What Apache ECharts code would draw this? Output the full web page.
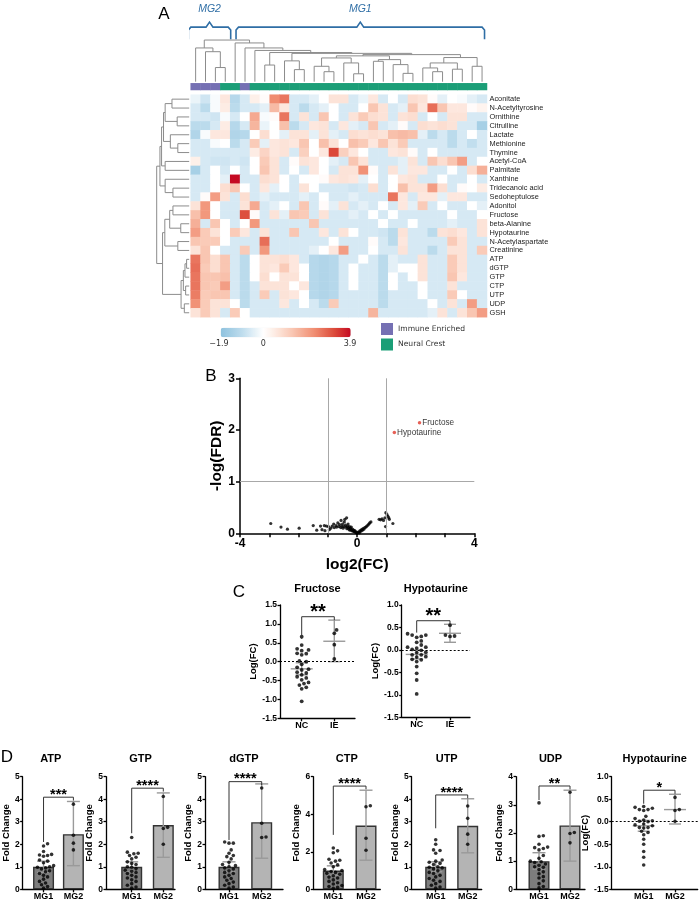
<!DOCTYPE html>
<html><head><meta charset="utf-8">
<script src="https://cdn.jsdelivr.net/npm/echarts@6/dist/echarts.min.js"></script>
<style>html,body{margin:0;padding:0;background:#fff}#c{width:700px;height:902px}</style>
</head><body><div id="c"></div>
<script>
// ---------------- DATA ----------------
const sampleNames = Array.from({length:30},(_,i)=>'S'+(i+1));
const groupNames = ['Immune Enriched','Neural Crest'];
const sampleGroup = [0,0,0,1,1,0,1,1,1,1,1,1,1,1,1,1,1,1,1,1,1,1,1,1,1,1,1,1,1,1];
const metabolites = ['Aconitate','N-Acetyltyrosine','Ornithine','Citrulline','Lactate','Methionine','Thymine','Acetyl-CoA','Palmitate','Xanthine','Tridecanoic acid','Sedoheptulose','Adonitol','Fructose','beta-Alanine','Hypotaurine','N-Acetylaspartate','Creatinine','ATP','dGTP','GTP','CTP','UTP','UDP','GSH'];
const heatValues = [
[-0.3,-0.7,-0.1,0.6,-1.1,-0.6,0.4,0.1,2.3,2.6,-0.6,-0.6,-0.4,0.0,0.7,0.7,-0.6,-0.3,0.6,-0.6,0.0,-0.6,0.8,0.7,0.1,-0.4,0.0,-0.1,-0.4,-0.6],
[-0.6,-1.0,-0.1,0.5,-1.0,-0.6,-0.6,-0.4,1.5,0.6,-0.6,-1.0,-0.6,-0.4,0.0,-0.6,-0.6,0.0,1.3,0.7,-0.6,-0.4,1.3,0.6,2.7,1.3,0.6,0.6,0.1,0.3],
[-0.6,-0.6,-0.7,-0.1,-0.6,0.0,1.8,-0.1,0.1,2.6,-0.6,0.7,-0.6,1.3,0.0,-0.6,0.7,1.2,0.8,0.7,-0.6,0.7,0.8,-0.6,0.0,-0.6,0.7,0.7,-0.6,-0.6],
[-1.0,-1.0,-0.6,0.5,-1.1,-0.6,1.6,-0.3,0.0,1.4,-1.0,-0.6,0.6,0.7,-0.6,0.6,-0.4,-0.6,1.3,-0.6,-0.4,0.1,-0.6,0.8,0.7,0.8,0.7,-0.6,-0.6,-1.4],
[-1.2,-0.1,0.6,0.6,-1.2,-1.1,0.0,0.8,0.0,-0.4,0.7,0.7,-0.4,0.7,-0.4,-0.6,0.8,0.7,0.8,0.7,1.4,1.5,1.4,-0.4,-1.0,-0.6,-1.0,-0.6,0.0,-0.6],
[-0.6,-0.6,-0.1,0.0,-1.0,-0.6,1.2,-0.4,0.6,0.7,0.6,1.3,0.0,1.4,0.7,0.0,1.4,1.2,0.6,1.3,0.7,1.2,-0.6,-0.6,-0.6,-0.6,-1.0,-0.6,-0.9,-0.6],
[-0.6,-0.6,-0.6,-0.6,-0.6,-0.6,0.5,1.0,0.6,0.7,-0.6,1.1,0.0,0.6,3.2,1.1,0.6,0.0,-0.6,-0.6,0.6,0.7,0.1,-0.6,0.0,-0.6,-0.6,-0.6,-0.6,-0.6],
[0.4,-0.6,-0.7,-0.7,-0.6,-0.7,0.0,1.2,0.7,-0.6,0.1,0.7,0.6,0.0,-0.4,-0.6,1.3,0.7,-0.6,-0.6,-0.6,-0.4,0.7,-0.6,1.3,0.8,1.3,2.0,-0.6,0.0],
[-1.4,-0.6,0.0,-0.6,0.0,-0.6,0.0,1.3,0.7,-0.6,0.0,-0.6,0.6,0.0,-0.6,0.7,0.7,2.2,0.1,-0.6,0.7,-0.4,0.6,0.6,-0.6,-0.6,0.0,-0.6,0.8,1.7],
[-0.6,-0.6,0.0,-0.4,3.9,-0.6,-0.6,0.8,0.7,0.0,-0.6,0.0,0.0,0.1,0.6,0.7,0.6,-0.4,0.0,-0.6,0.0,0.6,0.7,-0.6,-0.6,0.0,-0.6,-0.6,0.0,-0.6],
[-0.6,-0.6,0.0,0.8,1.3,0.0,-0.6,0.6,-0.4,0.0,-0.6,0.7,0.0,-0.6,-0.6,-0.6,-0.7,-0.6,0.8,-0.6,0.0,1.4,0.7,0.7,2.0,0.8,-0.6,0.1,0.0,0.5],
[-0.6,0.1,2.0,0.7,-0.6,0.8,-0.6,-0.4,-0.6,-0.6,-0.6,-0.4,-0.6,0.0,-0.6,-0.6,-0.4,-0.6,-0.6,-0.6,2.6,0.6,-0.6,0.6,0.6,-0.4,0.6,0.6,-0.6,-0.6],
[0.7,2.1,0.0,-0.6,-0.6,0.7,1.8,-0.6,-0.4,0.0,-0.6,1.3,-0.6,0.1,-0.4,0.7,-0.6,-0.4,-0.6,0.0,-0.6,0.6,-0.4,1.2,-0.6,0.0,-0.6,-0.6,0.0,-0.4],
[1.4,2.1,0.0,-0.6,-0.6,3.1,0.1,-0.6,0.7,-0.4,1.3,1.2,-0.6,0.7,-0.6,-0.6,-0.4,-0.6,0.0,-0.6,0.0,-0.6,-0.6,-0.6,-0.6,-0.6,0.0,-0.6,-0.6,0.0],
[1.7,-0.6,1.3,0.0,-0.6,0.0,2.1,-0.6,-0.6,-0.6,-0.6,-0.6,1.3,-0.6,-0.6,-0.6,-0.6,-0.6,-0.6,0.0,-0.6,-0.6,0.0,-0.6,-0.6,-0.6,-0.4,-0.6,-0.6,0.7],
[2.0,1.2,0.7,0.0,1.2,0.6,-0.6,0.7,-0.6,-0.6,1.3,-0.6,-0.6,0.6,-0.6,0.7,0.0,-0.6,-0.6,-0.7,-1.0,0.7,-0.6,-0.6,-1.0,0.7,0.8,0.6,-0.6,0.7],
[1.3,1.2,1.2,0.0,-0.6,-0.6,-0.6,2.7,-0.6,-0.6,-0.6,-0.6,-0.6,-0.6,0.0,-0.6,-0.6,-0.6,0.1,-0.6,-1.0,0.6,-0.6,-0.6,-0.6,-0.6,1.2,0.7,-0.6,-0.6],
[0.7,1.3,0.0,-0.6,-0.6,1.2,-0.6,2.1,-0.6,-0.6,-0.6,-0.6,-0.4,0.0,0.6,2.0,-0.6,-0.6,0.0,-0.6,-0.6,0.7,-0.6,-0.6,-1.0,-0.6,0.7,0.7,-0.6,1.2],
[2.6,1.3,0.8,1.3,-0.6,-1.0,0.0,0.7,0.7,0.8,0.6,-0.6,-1.1,-1.2,-1.1,-0.6,-0.6,0.0,-0.6,-1.0,-0.4,-0.6,-0.6,0.7,-0.6,-0.6,1.2,0.7,-0.6,-0.6],
[2.7,1.2,0.8,1.3,-0.6,-1.0,0.0,0.7,0.6,1.2,0.6,0.0,-1.1,-1.2,-1.1,-0.6,0.0,-0.6,-0.6,-1.0,-0.4,0.0,0.0,0.7,-0.6,-0.6,1.2,0.7,-0.6,-0.6],
[2.6,1.3,1.3,1.4,-0.6,-1.0,0.0,0.8,0.0,0.7,0.7,0.0,-1.1,-1.2,-1.1,-0.6,0.0,-0.6,-0.6,-1.0,0.0,-0.6,0.0,0.7,-0.6,-0.6,1.3,0.6,-0.6,-0.6],
[2.6,1.3,1.2,2.0,-0.6,-1.0,-0.6,0.7,0.7,0.7,0.0,0.6,-1.1,-1.2,-1.1,-0.6,0.0,-0.6,-0.6,-1.0,0.0,-0.6,-0.6,0.0,-0.6,-0.6,0.7,-0.6,-0.6,-0.6],
[2.5,1.2,1.3,1.3,-0.6,-1.0,-0.6,1.2,-0.6,0.7,0.6,0.0,-1.1,-1.2,-1.1,-0.6,-0.6,-0.6,-0.6,-1.0,-0.6,-0.6,-0.6,0.0,-0.6,-0.6,1.2,0.0,-0.6,-0.6],
[2.2,1.2,0.7,0.7,0.0,-1.0,-0.6,-0.6,-0.6,0.6,-0.6,0.0,-0.6,-1.0,1.2,-0.6,-0.6,-0.6,-0.6,-1.0,-0.6,-0.6,-0.6,-0.6,0.0,-0.6,0.7,-0.6,2.0,-0.6],
[0.7,1.2,0.7,-0.6,1.2,0.0,-0.6,-0.6,-0.6,-0.6,-0.6,-0.6,-0.6,-0.6,-0.6,-0.6,-0.6,-0.6,1.6,-0.6,-0.6,-0.6,-0.6,-0.6,-0.4,0.7,-0.6,0.7,1.3,2.0]
];
const heatMin = -1.9, heatMax = 3.9;
// dendrograms: [left, right, height]; leaves are indices
const mg2Tree = [0,[1,[2,3,0.34],0.72],0.81];
const mg1Lower = [[[[12,[13,14,0.24],0.37],[15,[16,17,0.19],0.45],0.57],[[18,19,0.49],[20,[21,22,0.2],0.41],0.53],0.62],[[[23,[24,25,0.24],0.33],[26,27,0.3],0.45],[28,29,0.37],0.58],0.65];
const mg1Tree = [4,[5,[6,[[7,8,0.40],[[9,[10,11,0.29],0.5],mg1Lower,0.68],0.70],0.75],0.81],0.93];
const colTree = [mg2Tree, mg1Tree, 1.0];
const rowTop = [[[[[0,1,0.53],[2,3,0.37],0.74],[4,[5,6,0.35],0.58],0.79],[7,8,0.74],0.85],[9,[10,11,0.5],0.74],0.9];
const rowBottom = [[[[12,13,0.5],[14,15,0.26],0.6],[16,17,0.35],0.75],[[[[18,19,0.08],20,0.13],[21,22,0.11],0.18],[23,24,0.15],0.25],0.82];
const rowTree = [rowTop, rowBottom, 1.0];
const clusterLabels = ['MG2','MG1'];
const clusterSpans = [[-0.74,3.55],[4.09,29.25]];

// volcano
const volcanoPoints = [[-2.95,0.19],[-2.6,0.12],[-2.38,0.08],[-1.98,0.1],[-1.5,0.15],[-1.38,0.06],[-1.25,0.14],[-1.2,0.07],[-1.12,0.15],[-1.1,0.05],[-1.05,0.14],[-0.98,0.13],[-0.95,0.07],[-0.9,0.1],[-0.85,0.14],[-0.8,0.18],[-0.78,0.11],[-0.72,0.15],[-0.7,0.12],[-0.66,0.2],[-0.62,0.13],[-0.6,0.17],[-0.56,0.11],[-0.55,0.25],[-0.52,0.14],[-0.5,0.18],[-0.48,0.1],[-0.45,0.13],[-0.44,0.22],[-0.42,0.27],[-0.4,0.16],[-0.38,0.12],[-0.36,0.3],[-0.35,0.09],[-0.33,0.14],[-0.31,0.18],[-0.3,0.11],[-0.28,0.08],[-0.26,0.13],[-0.25,0.06],[-0.23,0.1],[-0.21,0.07],[-0.2,0.12],[-0.18,0.05],[-0.16,0.08],[-0.14,0.04],[-0.12,0.06],[-0.1,0.03],[-0.08,0.05],[-0.06,0.02],[-0.04,0.03],[-0.02,0.01],[0,0.0],[0.03,0.02],[0.06,0.03],[0.08,0.01],[0.1,0.05],[0.13,0.04],[0.15,0.07],[0.18,0.06],[0.2,0.09],[0.23,0.08],[0.26,0.11],[0.3,0.12],[0.33,0.14],[0.37,0.16],[0.4,0.18],[0.43,0.2],[0.47,0.22],[0.75,0.27],[0.8,0.26],[0.85,0.28],[0.9,0.25],[0.95,0.3],[0.98,0.4],[1.02,0.36],[1.05,0.33],[1.08,0.3],[1.1,0.27],[0.97,0.13],[1.22,0.19]];
const volcanoHitNames = ['Fructose','Hypotaurine'];
const volcanoHits = [[2.13,2.14],[1.27,1.95]];
const volcanoLines = {x:[-1,1], y:[1]};

// panel C
const fructoseNC = [0.66,0.44,0.34,0.31,0.29,0.22,0.21,0.18,0.02,0.0,-0.07,-0.15,-0.2,-0.22,-0.28,-0.3,-0.35,-0.4,-0.43,-0.48,-0.55,-0.58,-0.62,-0.68,-0.72,-1.05];
const fructoseIE = [0.84,0.75,0.45,0.07];
const fructoseStats = [[-0.19,-0.35,-0.03],[0.54,0.0,1.1]];
const hypoNC = [0.36,0.33,0.33,0.3,0.28,0.2,0.17,0.11,0.06,0.06,0.04,0.01,-0.01,-0.05,-0.06,-0.11,-0.11,-0.15,-0.16,-0.21,-0.22,-0.26,-0.37,-0.52,-0.67,-0.98];
const hypoIE = [0.55,0.33,0.31,0.3];
const hypoStats = [[-0.1,-0.2,0.0],[0.37,0.17,0.57]];

// panel D
const atpMG1 = [2.02,1.92,1.68,1.55,1.52,1.47,1.5,1.3,1.25,1.18,1.05,1.0,0.98,0.95,0.9,0.82,0.78,0.7,0.62,0.55,0.45,0.35,0.28,0.2,0.12,0.05];
const atpMG2 = [3.78,2.4,2.05,1.75];
const gtpMG1 = [2.3,1.65,1.6,1.58,1.5,1.42,1.35,1.22,1.15,1.1,1.0,0.98,0.92,0.85,0.8,0.75,0.7,0.62,0.55,0.5,0.42,0.35,0.25,0.18,0.1,0.05];
const gtpMG2 = [4.12,2.75,2.7,2.0];
const dgtpMG1 = [2.1,2.05,2.05,1.75,1.6,1.5,1.45,1.35,1.2,1.1,1.05,1.0,0.95,0.9,0.82,0.75,0.7,0.62,0.55,0.48,0.4,0.32,0.25,0.18,0.1,0.05];
const dgtpMG2 = [4.5,2.93,2.32,2.3];
const ctpMG1 = [2.2,2.05,1.95,1.6,1.55,1.5,1.4,1.3,1.2,1.05,1.0,0.95,0.9,0.85,0.8,0.72,0.65,0.6,0.5,0.42,0.35,0.28,0.2,0.15,0.1,0.05];
const ctpMG2 = [4.45,4.4,2.72,2.08];
const utpMG1 = [2.2,2.0,1.75,1.72,1.6,1.3,1.25,1.2,1.15,1.1,1.0,0.98,0.95,0.9,0.82,0.75,0.7,0.62,0.55,0.48,0.4,0.35,0.25,0.18,0.1,0.05];
const utpMG2 = [3.7,3.15,2.45,2.0];
const udpMG1 = [3.07,1.9,1.88,1.6,1.5,1.48,1.45,1.4,1.2,1.1,1.0,0.98,0.95,0.9,0.85,0.8,0.78,0.7,0.62,0.55,0.45,0.4,0.3,0.2,0.1,0.05];
const udpMG2 = [3.45,2.02,1.98,1.65];
const hypoMG1 = [0.34,0.32,0.3,0.27,0.27,0.25,0.12,0.07,0.04,0.02,0.01,0.0,-0.05,-0.07,-0.09,-0.13,-0.13,-0.14,-0.21,-0.24,-0.29,-0.39,-0.5,-0.66,-0.79,-0.96];
const hypoMG2 = [0.54,0.27,0.25,0.01];
// [mean, low, high] per group
const atpStats = [[1.0,0.75,1.25],[2.45,1.05,3.9]];
const gtpStats = [[1.0,0.78,1.22],[2.85,1.42,4.28]];
const dgtpStats = [[1.0,0.78,1.22],[2.98,1.38,4.68]];
const ctpStats = [[1.0,0.75,1.25],[3.4,1.55,5.28]];
const utpStats = [[1.0,0.78,1.22],[2.82,1.62,4.02]];
const udpStats = [[1.0,0.72,1.3],[2.27,1.0,3.52]];
const hypoDStats = [[-0.09,-0.21,0.03],[0.27,-0.05,0.61]];
// significance: [top, leftEnd, rightEnd, stars]
const sigC = [[1.19,0.6,1.1,'**'],[0.65,0.385,0.57,'**']];
const sigD = [[4.09,2.1,3.94,'***'],[4.49,2.49,4.34,'****'],[4.78,2.19,4.63,'****'],[5.5,2.9,5.33,'****'],[4.19,2.71,4.04,'****'],[3.67,3.17,3.55,'**'],[0.7,0.4,0.62,'*']];

// ---------------- BUILD ----------------
const FONT = '"Liberation Sans", Arial, sans-serif';
const grids=[], xAxes=[], yAxes=[], series=[], graphics=[];
function addGrid(g,x,y){grids.push(g);const i=grids.length-1;xAxes.push(Object.assign({gridIndex:i},x));yAxes.push(Object.assign({gridIndex:i},y));return i;}
function txt(s,x,y,font,fill,align){graphics.push({type:'text',x:x,y:y,silent:true,style:{text:s,font:font,fill:fill||'#000',align:align||'center',verticalAlign:'middle'}});}

function treeSegs(node,segs,swap){
  if(typeof node==='number') return {p:node,h:0};
  const a=treeSegs(node[0],segs,swap), b=treeSegs(node[1],segs,swap), h=node[2];
  let pts=[[a.p,a.h],[a.p,h],[b.p,h],[b.p,b.h]];
  if(swap) pts=pts.map(q=>[q[1],q[0]]);
  segs.push(pts);
  return {p:(a.p+b.p)/2,h:h};
}

const HM = {left:190.7, top:94.7, width:296.3, height:222.5};
const gCol = addGrid({left:HM.left,top:19.2,width:HM.width,height:62.5},{type:'value',min:-0.5,max:29.5,show:false},{type:'value',min:0,max:1.5,show:false});
const colSegs=[]; treeSegs(colTree,colSegs,false);
series.push({type:'lines',coordinateSystem:'cartesian2d',xAxisIndex:gCol,yAxisIndex:gCol,polyline:true,silent:true,
  lineStyle:{color:'#8c8c8c',width:1,opacity:1},data:colSegs.map(c=>({coords:c}))});
const braceData = clusterSpans.map(s=>{const a=s[0],b=s[1],m=(a+b)/2;return {coords:[[a,1.02],[a,1.24],[a+0.25,1.31],[m-0.35,1.31],[m,1.43],[m+0.35,1.31],[b-0.25,1.31],[b,1.24],[b,1.02]]};});
series.push({type:'lines',coordinateSystem:'cartesian2d',xAxisIndex:gCol,yAxisIndex:gCol,polyline:true,silent:true,
  lineStyle:{color:'#2f6ea5',width:1.6,opacity:1},data:braceData});
clusterSpans.forEach((s,i)=>txt(clusterLabels[i],190.7+((s[0]+s[1])/2+0.5)*HM.width/30,9,'italic 10.5px '+FONT,'#2f6ea5'));

const gGrp = addGrid({left:HM.left,top:83.3,width:HM.width,height:6.7},{type:'category',data:sampleNames,show:false},{type:'category',data:['group'],show:false});
const grpSeriesIndex = series.length;
series.push({type:'heatmap',xAxisIndex:gGrp,yAxisIndex:gGrp,silent:true,data:sampleGroup.map((g,i)=>[i,0,g]),itemStyle:{borderWidth:0}});

const gHeat = addGrid(HM,{type:'category',data:sampleNames,show:false},
  {type:'category',data:metabolites,inverse:true,position:'right',axisLine:{show:false},axisTick:{show:false},splitLine:{show:false},
   axisLabel:{interval:0,fontSize:7.4,fontFamily:FONT,color:'#222',margin:2.5}});
const heatSeriesIndex = series.length;
const heatData=[]; heatValues.forEach((row,r)=>row.forEach((v,c)=>heatData.push([c,r,v])));
series.push({type:'heatmap',xAxisIndex:gHeat,yAxisIndex:gHeat,silent:true,data:heatData,itemStyle:{borderWidth:0}});

const gRow = addGrid({left:156.7,top:HM.top,width:32.5,height:HM.height},{type:'value',min:0,max:1,inverse:true,show:false},{type:'value',min:-0.5,max:24.5,inverse:true,show:false});
const rowSegs=[]; treeSegs(rowTree,rowSegs,true);
series.push({type:'lines',coordinateSystem:'cartesian2d',xAxisIndex:gRow,yAxisIndex:gRow,polyline:true,silent:true,
  lineStyle:{color:'#8c8c8c',width:1,opacity:1},data:rowSegs.map(c=>({coords:c}))});

const cStops=[[-1.9,[142,194,222]],[-0.95,[190,220,237]],[0,[255,255,255]],[0.5,[253,236,228]],[1.3,[249,198,178]],[2.3,[240,140,112]],[3.2,[219,72,57]],[3.9,[197,10,34]]];
function colorAt(v){for(let i=0;i<cStops.length-1;i++){const a=cStops[i],b=cStops[i+1];if(v<=b[0]+1e-9){const t=(v-a[0])/(b[0]-a[0]);const c=a[1].map((q,k)=>Math.round(q+(b[1][k]-q)*t));return 'rgb('+c.join(',')+')';}}return 'rgb(197,10,34)';}
const NSTOP=59; const colorList=Array.from({length:NSTOP},(_,k)=>colorAt(heatMin+(heatMax-heatMin)*k/(NSTOP-1)));
txt('\u22121.9',219,343.5,'8px "DejaVu Sans"','#333');
txt('0',263.3,343.5,'8px "DejaVu Sans"','#333');
txt('3.9',350,343.5,'8px "DejaVu Sans"','#333');

// ---------------- Volcano ----------------
const axBlack={color:'#000',width:1.5};
const gV = addGrid({left:240,top:378.3,width:234.3,height:155},
  {type:'value',min:-4,max:4,interval:1,splitLine:{show:false},axisLine:{onZero:false,lineStyle:axBlack},
   axisTick:{length:4,lineStyle:axBlack},axisLabel:{margin:4,fontSize:12,fontWeight:'bold',fontFamily:FONT,color:'#000',formatter:v=>(v===-4||v===0||v===4)?String(v):''},
   name:'log2(FC)',nameLocation:'middle',nameGap:23,nameTextStyle:{fontSize:15.5,fontWeight:'bold',fontFamily:FONT,color:'#000'}},
  {type:'value',min:0,max:3,interval:1,splitLine:{show:false},axisLine:{onZero:false,lineStyle:axBlack},
   axisTick:{length:4,lineStyle:axBlack},axisLabel:{margin:5,fontSize:12,fontWeight:'bold',fontFamily:FONT,color:'#000'},
   name:'-log(FDR)',nameLocation:'middle',nameGap:11,nameTextStyle:{fontSize:15.5,fontWeight:'bold',fontFamily:FONT,color:'#000'}});
series.push({type:'scatter',xAxisIndex:gV,yAxisIndex:gV,silent:true,symbolSize:3.2,itemStyle:{color:'#000'},data:volcanoPoints,
  markLine:{silent:true,symbol:'none',label:{show:false},lineStyle:{color:'#a8a8a8',type:'solid',width:1},
    data:volcanoLines.x.map(v=>({xAxis:v})).concat(volcanoLines.y.map(v=>({yAxis:v})))}});
series.push({type:'scatter',xAxisIndex:gV,yAxisIndex:gV,silent:true,symbolSize:3.5,itemStyle:{color:'#e0382c'},
  data:volcanoHits.map((p,i)=>({name:volcanoHitNames[i],value:p})),
  label:{show:true,position:'right',distance:1,formatter:'{b}',fontSize:8.2,fontFamily:FONT,color:'#000'}});

// ---------------- small plots ----------------
function swarm(vals,pyU,pxU,dot){
  const idx=vals.map((v,i)=>i).sort((a,b)=>vals[a]-vals[b]);
  const placed=[],off=new Array(vals.length).fill(0);
  idx.forEach(i=>{const y=vals[i]*pyU;
    for(let k=0;k<60;k++){const o=k===0?0:(k%2?1:-1)*Math.ceil(k/2)*dot*0.6;
      if(placed.every(p=>Math.hypot(p[0]-o,p[1]-y)>=dot*1.05)){off[i]=o;placed.push([o,y]);break;}}});
  return off.map(o=>o/pxU);
}
function errRender(cap,meanW){return function(params,api){
  const x=api.value(0),m=api.value(1),lo=api.value(2),hi=api.value(3);
  const a=api.coord([x,lo]),b=api.coord([x,hi]),c=api.coord([x,m]);
  const st={stroke:'#9a9a9a',lineWidth:1.4,fill:null};
  const ch=[{type:'line',shape:{x1:a[0],y1:a[1],x2:b[0],y2:b[1]},style:st},
    {type:'line',shape:{x1:a[0]-cap/2,y1:a[1],x2:a[0]+cap/2,y2:a[1]},style:st},
    {type:'line',shape:{x1:b[0]-cap/2,y1:b[1],x2:b[0]+cap/2,y2:b[1]},style:st}];
  if(meanW) ch.push({type:'line',shape:{x1:c[0]-meanW/2,y1:c[1],x2:c[0]+meanW/2,y2:c[1]},style:st});
  return {type:'group',children:ch};};}
function sigRender(p1,p2,stars,fs,lift){return function(params,api){
  const t=api.value(0),l=api.value(1),r=api.value(2);
  const A=api.coord([p1,l]),B=api.coord([p1,t]),C=api.coord([p2,t]),D=api.coord([p2,r]);
  return {type:'group',children:[
    {type:'polyline',shape:{points:[A,B,C,D]},style:{stroke:'#333',lineWidth:1,fill:null}},
    {type:'text',style:{text:stars,x:(B[0]+C[0])/2,y:B[1]+0.25*fs-lift,align:'center',verticalAlign:'middle',font:'bold '+fs+'px '+FONT,fill:'#000'}}]};};}

function smallPlot(cfg,lay){
  const unit=lay.o2-lay.o1,p1=lay.o1/unit,p2=lay.o2/unit,xMax=lay.width/unit;
  const pyU=lay.height/(cfg.yMax-cfg.yMin);
  const gi=addGrid({left:lay.left,top:lay.top,width:lay.width,height:lay.height},
    {type:'value',min:0,max:xMax,splitLine:{show:false},axisLine:{onZero:false,lineStyle:{color:'#000',width:1.3}},
     axisTick:{customValues:[p1,p2],length:3,lineStyle:{color:'#000',width:1.3}},
     axisLabel:{customValues:[p1,p2],margin:3,fontSize:9,fontWeight:'bold',fontFamily:FONT,color:'#000',
       formatter:v=>Math.abs(v-p1)<1e-6?cfg.cats[0]:cfg.cats[1]}},
    {type:'value',min:cfg.yMin,max:cfg.yMax,interval:cfg.yInt,splitLine:{show:false},axisLine:{onZero:false,lineStyle:{color:'#000',width:1.3}},
     axisTick:{length:2.5,lineStyle:{color:'#000',width:1.3}},
     axisLabel:{margin:3,fontSize:cfg.tickFs||8.5,fontWeight:'bold',fontFamily:FONT,color:'#000',formatter:v=>cfg.yDec?v.toFixed(1):String(v)},
     name:cfg.yName,nameLocation:'middle',nameGap:cfg.nameGap,nameTextStyle:{fontSize:9.5,fontWeight:'bold',fontFamily:FONT,color:'#000'}});
  const pos=[p1,p2];
  if(cfg.kind==='bar'){
    series.push({type:'bar',xAxisIndex:gi,yAxisIndex:gi,silent:true,barWidth:21,z:1,
      data:cfg.stats.map((s,i)=>({value:[pos[i],s[0]],itemStyle:{color:i?'#b4b4b4':'#7d7d7d',borderColor:'#333',borderWidth:1.4}}))});
  }
  series.push({type:'custom',xAxisIndex:gi,yAxisIndex:gi,silent:true,z:3,renderItem:errRender(cfg.kind==='bar'?13:12,cfg.kind==='bar'?0:22),
    data:cfg.stats.map((s,i)=>[pos[i],s[0],s[1],s[2]])});
  const pts=[];
  cfg.groups.forEach((vals,g)=>{const off=swarm(vals,pyU,unit,cfg.dot||3.8);vals.forEach((v,i)=>pts.push([pos[g]+off[i],v]));});
  const sc={type:'scatter',xAxisIndex:gi,yAxisIndex:gi,silent:true,z:4,symbolSize:cfg.dot||3.8,itemStyle:{color:'#000'},data:pts};
  if(cfg.zero) sc.markLine={silent:true,symbol:'none',label:{show:false},lineStyle:{color:'#000',type:[2,2],width:1},data:[{yAxis:0}]};
  series.push(sc);
  const s=cfg.sig;
  series.push({type:'custom',xAxisIndex:gi,yAxisIndex:gi,silent:true,z:5,renderItem:sigRender(p1,p2,s[3],cfg.starFs,cfg.lift),data:[[s[0],s[1],s[2]]]});
  txt(cfg.title,lay.left+lay.width/2+(cfg.titleDx||0),lay.titleY,'bold 11px '+FONT,'#000');
}

smallPlot({title:'Fructose',cats:['NC','IE'],yMin:-1.5,yMax:1.5,yInt:0.5,yDec:true,yName:'Log(FC)',nameGap:18,kind:'dot',
  groups:[fructoseNC,fructoseIE],stats:fructoseStats,sig:sigC[0],starFs:20,lift:9,zero:true},
  {left:280,top:605,width:75,height:113.3,o1:21.7,o2:54.3,titleY:588.5});
smallPlot({title:'Hypotaurine',cats:['NC','IE'],yMin:-1.5,yMax:1.0,yInt:0.5,yDec:true,yName:'Log(FC)',nameGap:18,kind:'dot',
  groups:[hypoNC,hypoIE],stats:hypoStats,sig:sigC[1],starFs:20,lift:9,zero:true},
  {left:401.7,top:605,width:68.3,height:112.3,o1:15,o2:48.3,titleY:588.5});

const dTop=776.7,dH=112.6,dTitleY=758.5;
const dPanels=[
 {title:'ATP',g:[atpMG1,atpMG2],st:atpStats,max:5,int:1,lay:{left:18.3,width:65,o1:22.4,o2:54.4}},
 {title:'GTP',g:[gtpMG1,gtpMG2],st:gtpStats,max:5,int:1,lay:{left:106,width:69,o1:25.7,o2:57.3}},
 {title:'dGTP',g:[dgtpMG1,dgtpMG2],st:dgtpStats,max:5,int:1,lay:{left:205,width:78,o1:24,o2:56.7}},
 {title:'CTP',g:[ctpMG1,ctpMG2],st:ctpStats,max:6,int:2,lay:{left:313.3,width:67,o1:20,o2:52.7}},
 {title:'UTP',g:[utpMG1,utpMG2],st:utpStats,max:5,int:1,lay:{left:411.7,width:70,o1:24,o2:56}},
 {title:'UDP',g:[udpMG1,udpMG2],st:udpStats,max:4,int:1,lay:{left:516,width:69,o1:23,o2:54}}
];
dPanels.forEach((p,i)=>{
  smallPlot({title:p.title,cats:['MG1','MG2'],yMin:0,yMax:p.max,yInt:p.int,yName:'Fold Change',nameGap:7.5,kind:'bar',
    groups:p.g,stats:p.st,sig:sigD[i],starFs:14.5,lift:6,dot:3.6},
    Object.assign({top:dTop,height:dH,titleY:dTitleY},p.lay));
});
smallPlot({title:'Hypotaurine',cats:['MG1','MG2'],yMin:-1.5,yMax:1.0,yInt:0.5,yDec:true,yName:'Log(FC)',nameGap:9,kind:'dot',
  groups:[hypoMG1,hypoMG2],stats:hypoDStats,sig:sigD[6],starFs:14.5,lift:6,zero:true,dot:3.6},
  {left:611.7,top:dTop,width:86,height:dH,o1:32,o2:63.3,titleY:dTitleY});

txt('A',164,14,'17px '+FONT,'#000');
txt('B',211,376,'17px '+FONT,'#000');
txt('C',239,592,'17px '+FONT,'#000');
txt('D',7,757,'17px '+FONT,'#000');

const chart = echarts.init(document.getElementById('c'),null,{renderer:'canvas'});
chart.setOption({
  animation:false,
  backgroundColor:'#fff',
  grid:grids, xAxis:xAxes, yAxis:yAxes,
  visualMap:[
    {type:'continuous',seriesIndex:heatSeriesIndex,min:heatMin,max:heatMax,orient:'horizontal',left:220.7,top:327.7,
     itemWidth:9.6,itemHeight:130,calculable:false,padding:0,hoverLink:false,inRange:{color:colorList},textStyle:{fontSize:8}},
    {type:'piecewise',seriesIndex:grpSeriesIndex,dimension:2,orient:'vertical',left:381,top:323,itemWidth:12,itemHeight:12,itemGap:3.5,
     itemSymbol:'rect',selectedMode:false,hoverLink:false,padding:0,textGap:5,align:'left',inverse:true,
     pieces:groupNames.map((n,i)=>({value:i,label:n,color:i?'#1b9e77':'#7570b3'})),
     textStyle:{fontFamily:'DejaVu Sans',fontSize:7.6,color:'#333'}}
  ],
  graphic:graphics,
  series:series
});
</script></body></html>
